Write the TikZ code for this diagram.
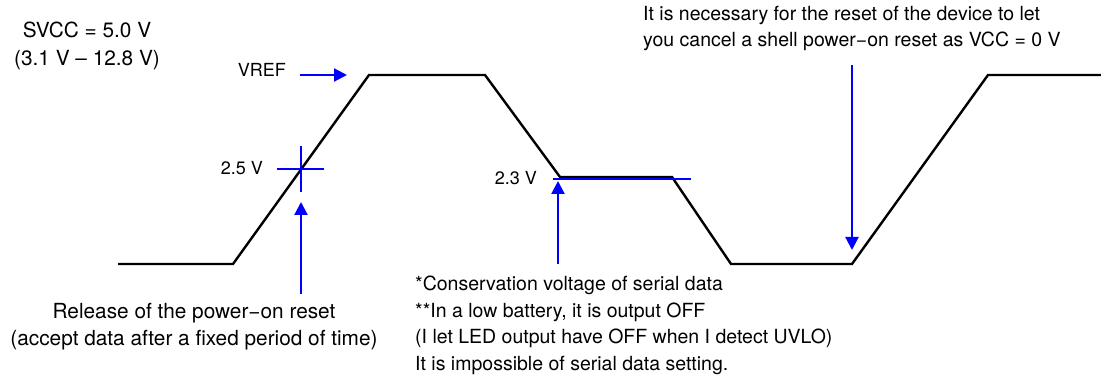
\documentclass[tikz,border=0pt]{standalone}
\usepackage{fontspec}
\setmainfont{TeX Gyre Heros}
\usepackage{tikz}
\usetikzlibrary{arrows.meta}
\definecolor{vblue}{RGB}{0,0,255}

\begin{document}
\begin{tikzpicture}[x=1pt,y=-1pt,line join=miter,>={Triangle[length=13pt,width=13pt]},
  wave/.style={line width=2.4pt,black},
  mark line/.style={line width=2.2pt,vblue},
  txt/.style={font=\fontsize{19.5}{26.5}\selectfont,inner sep=0pt},
  big txt/.style={font=\fontsize{20.8}{27.5}\selectfont,inner sep=0pt},
  small txt/.style={font=\fontsize{18}{22}\selectfont,inner sep=0pt}]
  \useasboundingbox (0,0) rectangle (1101,379);
  % supply voltage waveform
  \coordinate (w0) at (118,264);
  \coordinate (w1) at (233,264);
  \coordinate (w2) at (369,75);
  \coordinate (w3) at (485,75);
  \coordinate (w4) at (560,177);
  \coordinate (w5) at (672,177);
  \coordinate (w6) at (731,264);
  \coordinate (w7) at (852,264);
  \coordinate (w8) at (988,75);
  \coordinate (w9) at (1101,75);
  \draw[wave] (w0)--(w1)--(w2)--(w3)--(w4)--(w5)--(w6)--(w7)--(w8)--(w9);
  % texts
  \node[big txt,align=center,anchor=north] (svcc) at (87,22) {SVCC = 5.0 V\\(3.1 V – 12.8 V)};
  \node[small txt,anchor=base east] (vref) at (286,77) {VREF};
  \node[small txt,anchor=base east] (v25) at (263,175) {2.5 V};
  \node[small txt,anchor=base east] (v23) at (537,185) {2.3 V};
  \node[txt,align=left,anchor=north west] (vccnote) at (643,6) {It is necessary for the reset of the device to let\\you cancel a shell power−on reset as VCC = 0 V};
  \node[big txt,align=center,anchor=north] (release) at (194,303) {Release of the power−on reset\\(accept data after a fixed period of time)};
  \node[txt,align=left,anchor=north west] (serial) at (415,276) {*Conservation voltage of serial data\\**In a low battery, it is output OFF\\(I let LED output have OFF when I detect UVLO)\\It is impossible of serial data setting.};
  % markers
  \coordinate (vreftip) at (347,75);
  \draw[mark line,->,shorten <=14pt] (vref.east |- vreftip) -- (vreftip);
  \coordinate (c25) at (301,169);
  \draw[mark line] (277,169) -- (324,169) (301,146) -- (301,192);
  \coordinate (a25) at (301,294);
  \coordinate (t25) at (301,202);
  \draw[mark line,->] (a25) -- (t25);
  \coordinate (h23) at (553,179);
  \coordinate (e23) at (691,179);
  \draw[mark line] (h23) -- (e23);
  \coordinate (a23) at (558,264);
  \coordinate (t23) at (558,181);
  \draw[mark line,->] (a23) -- (t23);
  \coordinate (a0v) at (852,65);
  \coordinate (t0v) at (852,250);
  \draw[mark line,->] (a0v) -- (t0v);
\end{tikzpicture}
\end{document}
